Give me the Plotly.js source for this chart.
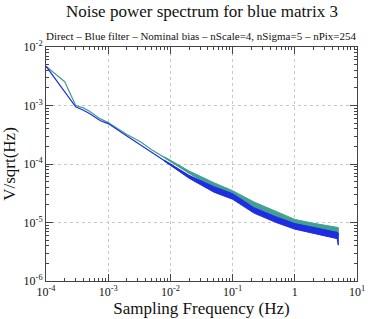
<!DOCTYPE html>
<html><head><meta charset="utf-8">
<script src="https://cdn.plot.ly/plotly-3.0.1.min.js"></script>
<style>html,body{margin:0;padding:0;background:#fff}#chart{width:374px;height:319px}</style>
</head><body><div id="chart"></div>
<script>
// Centre lines (Hz, V/sqrt(Hz))
const freq = [1e-4, 2e-4, 3e-4, 4e-4, 5e-4, 7.5e-4, 1e-3, 2e-3, 3.3e-3, 5e-3, 1e-2, 2e-2, 5e-2, 0.1, 0.22, 0.5, 1, 2, 5];
const blueVals = [4.7e-3, 1.7e-3, 9.5e-4, 8.3e-4, 7.3e-4, 5.5e-4, 4.9e-4, 3.0e-4, 2.1e-4, 1.6e-4, 9.5e-5, 6.0e-5, 3.7e-5, 2.8e-5, 1.62e-5, 1.13e-5, 8.6e-6, 7.4e-6, 5.9e-6];
const tealVals = [4.7e-3, 2.55e-3, 1.0e-3, 9.1e-4, 8.0e-4, 5.9e-4, 5.1e-4, 3.2e-4, 2.4e-4, 1.75e-4, 1.12e-4, 7.2e-5, 4.4e-5, 3.24e-5, 2.04e-5, 1.41e-5, 1.04e-5, 8.9e-6, 7.4e-6];
// Noise envelopes at high frequency
const bandFreq = [0.008, 0.02, 0.05, 0.1, 0.22, 0.5, 1, 2, 4.8, 5.0];
const blueUpper = [1.16e-4, 6.4e-5, 4.1e-5, 3.1e-5, 1.8e-5, 1.25e-5, 9.6e-6, 8.3e-6, 6.8e-6, 6.6e-6];
const blueLower = [1.12e-4, 5.7e-5, 3.3e-5, 2.5e-5, 1.45e-5, 1.0e-5, 7.7e-6, 6.6e-6, 5.3e-6, 4.1e-6];
const tealUpper = [1.33e-4, 7.6e-5, 4.8e-5, 3.5e-5, 2.25e-5, 1.55e-5, 1.13e-5, 9.7e-6, 8.3e-6, 8.2e-6];
const tealLower = [1.29e-4, 6.9e-5, 4.0e-5, 3.0e-5, 1.85e-5, 1.28e-5, 9.5e-6, 8.1e-6, 6.7e-6, 6.2e-6];

const xTickVals = [1e-4, 1e-3, 1e-2, 1e-1, 1, 10];
const xTickText = ['10<sup>-4</sup>', '10<sup>-3</sup>', '10<sup>-2</sup>', '10<sup>-1</sup>', '1', '10<sup>1</sup>'];
const yTickVals = [1e-6, 1e-5, 1e-4, 1e-3, 1e-2];
const yTickText = ['10<sup>-6</sup>', '10<sup>-5</sup>', '10<sup>-4</sup>', '10<sup>-3</sup>', '10<sup>-2</sup>'];

const BLUE = 'rgb(30,45,225)';
const TEAL = 'rgb(65,160,145)';

function minorTicks(lo, hi) {
  const out = [];
  for (let e = lo; e < hi; e++) for (let m = 2; m <= 9; m++) out.push(m * Math.pow(10, e));
  return out;
}
function band(up, low, color) {
  return {
    x: bandFreq.concat(bandFreq.slice().reverse()),
    y: up.concat(low.slice().reverse()),
    type: 'scatter', mode: 'lines', fill: 'toself', fillcolor: color,
    line: {color: color, width: 1}, hoverinfo: 'skip', showlegend: false
  };
}

const traces = [
  {x: freq, y: tealVals, type: 'scatter', mode: 'lines', line: {color: TEAL, width: 1.2}, showlegend: false},
  band(tealUpper, tealLower, TEAL),
  {x: freq, y: blueVals, type: 'scatter', mode: 'lines', line: {color: BLUE, width: 1.2}, showlegend: false},
  band(blueUpper, blueLower, BLUE)
];

const axisCommon = {
  type: 'log', showline: true, linecolor: '#444', linewidth: 1, mirror: 'allticks',
  ticks: 'inside', ticklen: 7, tickcolor: '#444', tickwidth: 1,
  showgrid: true, gridcolor: '#c8c8c8', griddash: 'dot', gridwidth: 1,
  zeroline: false, tickmode: 'array',
  tickfont: {family: 'Liberation Serif', size: 12, color: '#111'}
};

const layout = {
  width: 374, height: 319,
  margin: {l: 46, r: 17, t: 47, b: 38},
  paper_bgcolor: '#fff', plot_bgcolor: '#fff',
  showlegend: false,
  xaxis: Object.assign({}, axisCommon, {
    range: [-4, 1], tickvals: xTickVals, ticktext: xTickText,
    minor: {tickmode: 'array', tickvals: minorTicks(-4, 1), ticks: 'inside', ticklen: 3, tickcolor: '#444', showgrid: false},
    title: {text: 'Sampling Frequency (Hz)', font: {family: 'Liberation Serif', size: 17, color: '#111'}, standoff: 0}
  }),
  yaxis: Object.assign({}, axisCommon, {
    range: [-6, -2], tickvals: yTickVals, ticktext: yTickText,
    minor: {tickmode: 'array', tickvals: minorTicks(-6, -2), ticks: 'inside', ticklen: 3, tickcolor: '#444', showgrid: false},
    title: {text: 'V/sqrt(Hz)', font: {family: 'Liberation Serif', size: 17, color: '#111'}, standoff: 4}
  }),
  annotations: [
    {text: 'Noise power spectrum for blue matrix 3', xref: 'paper', yref: 'paper', x: 0.5, y: 1, yshift: 36,
     xanchor: 'center', yanchor: 'middle', showarrow: false, font: {family: 'Liberation Serif', size: 17, color: '#111'}},
    {text: 'Direct – Blue filter – Nominal bias – nScale=4, nSigma=5 – nPix=254', xref: 'paper', yref: 'paper', x: 0.5, y: 1, yshift: 11,
     xanchor: 'center', yanchor: 'middle', showarrow: false, font: {family: 'Liberation Serif', size: 11, color: '#111'}}
  ]
};

Plotly.newPlot('chart', traces, layout, {staticPlot: true, displayModeBar: false});
</script></body></html>
